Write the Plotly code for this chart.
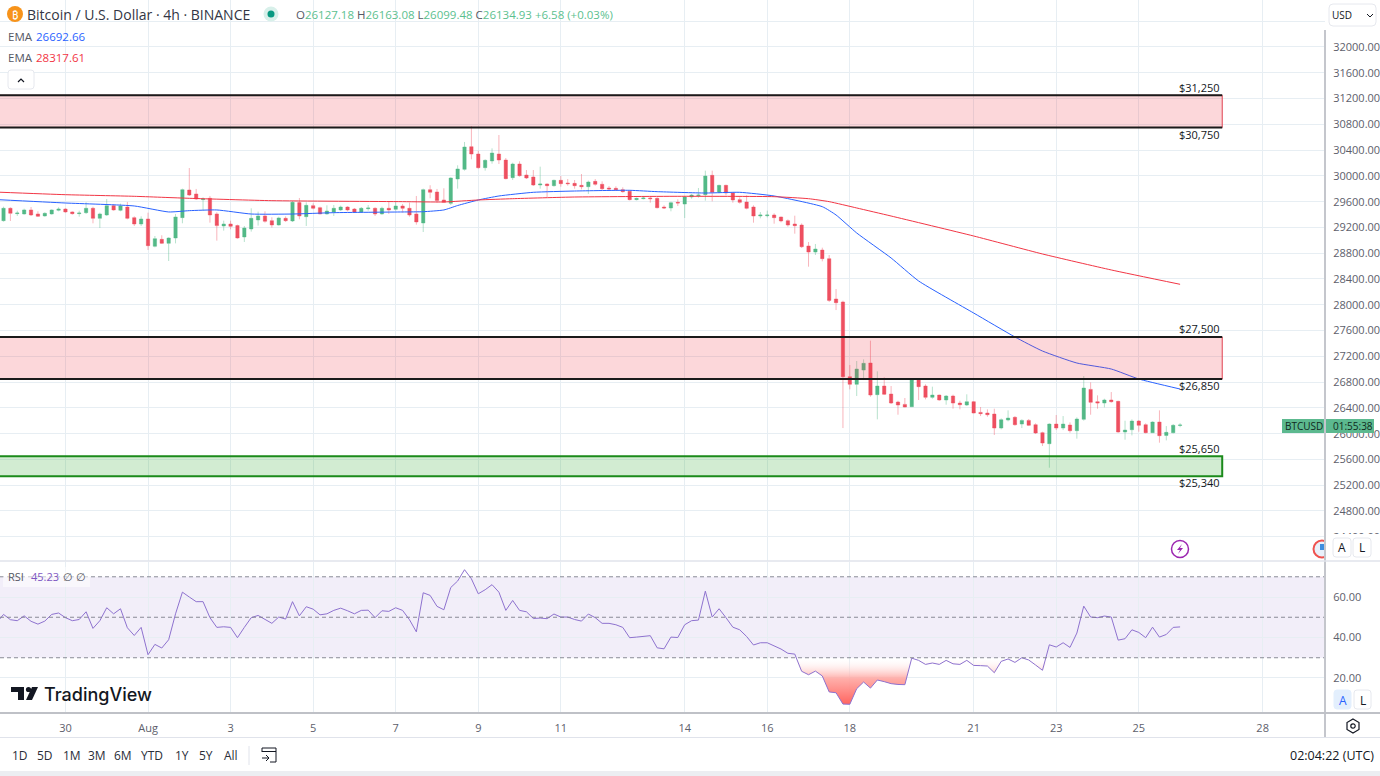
import pandas as pd
import plotly.graph_objects as go

W, H = 1380, 776
FONT = "Open Sans"

opens = [
29305,29497,29414,29409,29471,29409,29378,29409,29466,29486,
29440,29414,29429,29497,29341,29393,29538,29466,29517,29352,
29253,29331,28907,29015,28953,29036,29352,29781,29719,29631,
29652,29409,29222,29253,29228,29052,29176,29316,29378,29305,
29238,29341,29300,29585,29367,29538,29507,29409,29440,29471,
29517,29486,29440,29491,29497,29409,29497,29481,29533,29497,
29409,29269,29786,29750,29626,29574,29952,30101,30453,30339,
30127,30231,30339,30246,29972,30184,30013,29982,29858,29874,
29848,29931,29889,29884,29853,29832,29915,29869,29812,29806,
29786,29760,29631,29646,29657,29651,29517,29501,29589,29563,
29672,29693,29708,30008,29744,29853,29734,29631,29594,29517,
29377,29382,29393,29362,29305,29253,29237,28912,28818,28849,
28715,28089,28043,26884,26765,26987,27096,26605,26739,26615,
26491,26454,26418,26842,26739,26563,26599,26522,26584,26475,
26444,26496,26330,26320,26304,26087,26211,26253,26149,26206,
26139,26015,25844,26149,26087,26134,26046,26222,26687,26496,
26475,26522,26501,26025,26061,26196,26139,26015,26180,25973,
26015,26127.18]

highs = [
29522,29512,29460,29491,29517,29450,29435,29481,29512,29497,
29450,29460,29590,29522,29429,29641,29559,29569,29595,29372,
29372,29429,29067,29078,29047,29409,29802,30122,29797,29667,
29688,29435,29305,29305,29243,29222,29497,29445,29450,29357,
29367,29372,29610,29657,29590,29574,29522,29543,29548,29538,
29528,29502,29517,29548,29512,29522,29595,29595,29564,29585,
29688,29802,29854,29797,29807,29978,30164,30526,30774,30391,
30257,30427,30634,30277,30205,30226,30091,30091,30143,29884,
29941,29998,29951,29936,30029,29926,29951,29915,29843,29838,
29822,29781,29662,29688,29688,29667,29543,29600,29636,29688,
29719,29812,30081,30081,29863,29863,29750,29667,29698,29543,
29439,29460,29419,29367,29325,29382,29263,28974,28943,28886,
28772,28244,28063,27065,27127,27153,27443,26967,26873,26739,
26511,26553,26853,26858,26765,26729,26605,26599,26605,26511,
26610,26506,26413,26377,26387,26237,26361,26273,26222,26227,
26160,26030,26160,26289,26273,26175,26253,26894,26796,26594,
26542,26646,26511,26201,26222,26211,26160,26191,26361,26118,
26149,26163.08]

lows = [
29290,29300,29378,29398,29378,29362,29367,29398,29450,29429,
29398,29367,29409,29264,29191,29378,29460,29450,29326,29222,
29222,28850,28891,28943,28679,28953,29264,29688,29626,29460,
29274,28995,29150,29171,29026,28974,29135,29228,29274,29197,
29228,29285,29285,29326,29222,29481,29404,29398,29378,29455,
29450,29429,29424,29460,29378,29398,29409,29460,29429,29367,
29243,29129,29652,29585,29585,29548,29802,30081,30257,30112,
30081,30189,30184,29946,29936,29988,29951,29843,29801,29667,
29832,29832,29848,29801,29791,29719,29848,29781,29775,29765,
29739,29620,29620,29636,29584,29496,29486,29450,29532,29346,
29646,29662,29615,29605,29729,29698,29584,29569,29481,29274,
29341,29356,29258,29279,29212,29103,28881,28591,28772,28674,
28043,27918,26087,26687,26584,26832,26573,26222,26599,26460,
26294,26408,26413,26522,26532,26542,26511,26449,26387,26377,
26429,26315,26273,26263,25979,26066,26191,26123,26087,26118,
25994,25808,25472,26056,26056,26015,25922,26201,26294,26387,
26408,26480,26015,25906,25973,26030,26004,26010,25860,25896,
26004,26099.48]

closes = [
29497,29419,29424,29471,29393,29372,29419,29471,29486,29440,
29414,29424,29497,29341,29409,29538,29471,29533,29341,29253,
29331,28917,29026,28953,29036,29362,29786,29703,29641,29641,
29393,29228,29253,29217,29036,29191,29341,29378,29295,29238,
29347,29305,29590,29378,29543,29497,29409,29455,29497,29517,
29471,29440,29497,29502,29409,29497,29471,29533,29497,29393,
29285,29786,29745,29616,29590,29967,30107,30448,30339,30127,
30241,30355,30246,29957,30184,30003,29967,29858,29874,29848,
29931,29879,29879,29848,29832,29905,29869,29801,29796,29786,
29755,29631,29651,29657,29646,29506,29501,29584,29579,29672,
29703,29703,29998,29744,29853,29734,29626,29589,29496,29377,
29393,29393,29351,29300,29237,29227,28901,28818,28865,28715,
28068,28032,26884,26765,27003,27091,26599,26739,26610,26475,
26444,26413,26842,26729,26563,26599,26522,26584,26475,26449,
26496,26320,26310,26294,26087,26216,26242,26139,26206,26129,
26010,25854,26149,26087,26149,26046,26227,26708,26486,26475,
26522,26496,26025,26056,26196,26129,26015,26180,25968,26020,
26129,26134.93]

# RSI starts one bar earlier than the candles (that bar sits just off the left edge)
rsi = [47.3,
51.4,48.8,48.3,50.7,48.0,46.6,48.1,51.4,52.1,49.8,
48.3,48.9,52.7,44.5,48.3,54.7,51.7,54.2,44.8,41.0,
45.0,31.5,36.6,34.8,38.9,51.7,62.4,60.0,57.7,57.7,
49.8,45.0,45.3,45.0,39.9,45.0,49.8,50.9,48.8,47.0,
50.1,49.1,57.7,50.7,55.2,54.0,51.2,51.7,53.4,54.5,
53.2,51.7,53.4,53.5,49.8,53.2,52.9,54.7,53.4,48.8,
42.8,62.1,60.8,55.4,53.7,64.7,67.9,73.5,69.0,61.6,
63.6,66.1,62.4,53.4,58.3,53.4,52.7,49.4,49.6,49.3,
51.6,50.1,50.1,48.9,48.1,51.6,49.8,47.0,47.0,46.3,
45.0,39.9,40.2,40.7,40.9,34.9,34.4,40.2,40.0,46.3,
48.3,48.6,62.9,50.1,54.2,49.8,45.1,43.8,40.5,36.3,
37.4,37.4,35.9,34.3,32.2,31.8,23.3,21.6,23.4,21.0,
13.1,12.7,7.1,7.0,14.7,18.0,15.0,19.0,18.2,17.2,
16.8,16.7,29.8,28.7,26.7,27.4,26.7,28.7,27.0,26.7,
28.7,26.2,26.1,25.9,22.6,28.2,29.4,27.7,30.0,28.9,
26.4,23.8,36.4,35.3,37.4,35.1,42.2,55.5,50.1,49.8,
50.6,50.1,38.7,39.4,43.8,42.5,39.9,45.1,40.2,41.5,
45.0,45.23]

ema_blue_bars = [0,10,20,25,28,32,37,43,49,59,62,65,67,70,73,78,84,92,96,103,108,113,120,122,125,130,134,142,148,152,157,162,166,172]
ema_blue = [29632,29579,29533,29440,29460,29471,29408,29408,29429,29440,29444,29471,29540,29626,29688,29745,29765,29776,29755,29734,29745,29688,29522,29393,29114,28726,28369,27872,27500,27282,27096,27003,26848,26692.66]
ema_red_bars = [0,10,20,28,40,59,65,70,75,84,99,113,118,121,125,130,142,152,162,172]
ema_red = [29748,29708,29683,29652,29615,29600,29595,29626,29646,29672,29683,29677,29646,29600,29502,29377,29067,28788,28540,28317.61]

tick_dates = ["2023-07-30","2023-08-01","2023-08-03","2023-08-05","2023-08-07","2023-08-09","2023-08-11","2023-08-14","2023-08-16","2023-08-18","2023-08-21","2023-08-23","2023-08-25","2023-08-28"]
tick_labels = ["30","Aug","3","5","7","9","11","14","16","18","21","23","25","28"]

zone_upper = (30750, 31250)
zone_middle = (26850, 27500)
zone_lower = (25340, 25650)

START = pd.Timestamp("2023-07-28 12:00")
times = pd.date_range(START, periods=len(opens), freq="4h")
bar_time = lambda i: START + pd.Timedelta(hours=4 * (i - 1))
rsi_times = [bar_time(i) for i in range(len(rsi))]

X_RANGE = ["2023-07-28 09:57", "2023-08-29 12:15"]
ZONE_START = "2023-07-27 00:00"
ZONE_END = "2023-08-27 00:30"
LABEL_X = "2023-08-26 11:30"
GREEN, RED = "#53b987", "#ee4f60"

def X(p): return p / W
def Y(p): return 1 - p / H

fig = go.Figure()
fig.add_trace(go.Candlestick(
    x=times, open=opens, high=highs, low=lows, close=closes, xaxis="x2", yaxis="y",
    whiskerwidth=0,
    increasing=dict(line=dict(color="rgba(83,185,135,0.42)", width=1), fillcolor=GREEN),
    decreasing=dict(line=dict(color="rgba(238,79,96,0.42)", width=1), fillcolor=RED),
    showlegend=False, hoverinfo="skip"))
fig.add_trace(go.Scatter(x=[bar_time(i) for i in ema_blue_bars], y=ema_blue, mode="lines", xaxis="x2", yaxis="y",
                         line=dict(color="#2962ff", width=1, shape="spline", smoothing=0.5), hoverinfo="skip", showlegend=False))
fig.add_trace(go.Scatter(x=[bar_time(i) for i in ema_red_bars], y=ema_red, mode="lines", xaxis="x2", yaxis="y",
                         line=dict(color="#f23645", width=1, shape="spline", smoothing=0.5), hoverinfo="skip", showlegend=False))

# RSI pane
fig.add_trace(go.Scatter(x=rsi_times, y=[30] * len(rsi), mode="lines", line=dict(width=0), xaxis="x", yaxis="y2",
                         hoverinfo="skip", showlegend=False))
fig.add_trace(go.Scatter(x=rsi_times, y=[min(v, 30) for v in rsi], mode="lines", line=dict(width=0), xaxis="x", yaxis="y2",
                         fill="tonexty",
                         fillgradient=dict(type="vertical", start=7, stop=30,
                                           colorscale=[[0, "rgba(255,100,95,1)"], [0.55, "rgba(255,165,160,0.9)"], [1, "rgba(255,255,255,0)"]]),
                         hoverinfo="skip", showlegend=False))
fig.add_trace(go.Scatter(x=rsi_times, y=rsi, mode="lines", line=dict(color="#8e72cf", width=1), xaxis="x", yaxis="y2",
                         hoverinfo="skip", showlegend=False))

shapes = []
annos = []

def rect(x0, y0, x1, y1, fill="rgba(0,0,0,0)", line="rgba(0,0,0,0)", width=0, layer="above"):
    shapes.append(dict(type="rect", xref="paper", yref="paper", x0=X(x0), x1=X(x1), y0=Y(y0), y1=Y(y1),
                       fillcolor=fill, line=dict(color=line, width=width), layer=layer))

def rrect(x0, y0, x1, y1, r, fill="#ffffff", line="#e6e8ee", width=1):
    pts = (f"M {X(x0+r)} {Y(y0)} L {X(x1-r)} {Y(y0)} Q {X(x1)} {Y(y0)} {X(x1)} {Y(y0+r)} "
           f"L {X(x1)} {Y(y1-r)} Q {X(x1)} {Y(y1)} {X(x1-r)} {Y(y1)} L {X(x0+r)} {Y(y1)} "
           f"Q {X(x0)} {Y(y1)} {X(x0)} {Y(y1-r)} L {X(x0)} {Y(y0+r)} Q {X(x0)} {Y(y0)} {X(x0+r)} {Y(y0)} Z")
    shapes.append(dict(type="path", xref="paper", yref="paper", path=pts, fillcolor=fill,
                       line=dict(color=line, width=width), layer="above"))

def poly(points, fill=None, line=None, width=1, close=False):
    d = "M " + " L ".join(f"{X(a)} {Y(b)}" for a, b in points) + (" Z" if close else "")
    shapes.append(dict(type="path", xref="paper", yref="paper", path=d, layer="above",
                       fillcolor=fill or "rgba(0,0,0,0)",
                       line=dict(color=line or "rgba(0,0,0,0)", width=width if line else 0)))

def circle(cx, cy, r, fill="rgba(0,0,0,0)", line="rgba(0,0,0,0)", width=0):
    shapes.append(dict(type="circle", xref="paper", yref="paper", x0=X(cx - r), x1=X(cx + r), y0=Y(cy + r), y1=Y(cy - r),
                       fillcolor=fill, line=dict(color=line, width=width), layer="above"))

def text(px, py, s, size=12, color="#131722", anchor="left", family=FONT, weight="normal"):
    annos.append(dict(xref="paper", yref="paper", x=X(px), y=Y(py), text=s, showarrow=False, xanchor=anchor, yanchor="middle",
                      font=dict(size=size, color=color, family=family, weight=weight), borderpad=0, borderwidth=0))

def hline(y0, x0, x1, color, width=1):
    poly([(x0, y0), (x1, y0)], line=color, width=width)

def vline(x0, y0, y1, color, width=1):
    poly([(x0, y0), (x0, y1)], line=color, width=width)

# RSI band and levels
shapes.append(dict(type="rect", xref="x domain", yref="y2", x0=0, x1=1, y0=30, y1=70, fillcolor="rgba(126,87,194,0.1)",
                   line=dict(width=0), layer="below"))
for lvl in (30, 50, 70):
    shapes.append(dict(type="line", xref="x domain", yref="y2", x0=0, x1=1, y0=lvl, y1=lvl,
                       line=dict(color="#787b86", width=1, dash="4px,3px"), layer="above", opacity=0.85))

# Zones
for lo, hi in (zone_upper, zone_middle):
    shapes.append(dict(type="rect", xref="x2", yref="y", x0=ZONE_START, x1=ZONE_END, y0=lo, y1=hi,
                       fillcolor="rgba(242,54,69,0.2)", line=dict(color="#e04050", width=1), layer="above"))
    for lvl in (lo, hi):
        shapes.append(dict(type="line", xref="x2", yref="y", x0=ZONE_START, x1=ZONE_END, y0=lvl, y1=lvl,
                           line=dict(color="#1a1a1a", width=2), layer="above"))
shapes.append(dict(type="rect", xref="x2", yref="y", x0=ZONE_START, x1=ZONE_END, y0=zone_lower[0], y1=zone_lower[1],
                   fillcolor="rgba(60,175,60,0.23)", line=dict(color="#1b8a1b", width=2), layer="above"))

for price, shift in ((zone_upper[1], 8), (zone_upper[0], -6.5), (zone_middle[1], 8), (zone_middle[0], -6.5),
                     (zone_lower[1], 8), (zone_lower[0], -6.5)):
    annos.append(dict(xref="x2", yref="y", x=LABEL_X, y=price, text=f"${price:,}", showarrow=False, yshift=shift,
                      font=dict(size=11, color="#131722", family=FONT)))

# Right side and frame
rect(1326, 0, W, 30, fill="#ffffff")
rrect(1329, 4, 1376, 26, 4)
text(1332, 15, "USD", 10)
poly([(1367, 14), (1370, 17), (1373, 14)], line="#131722", width=1)
rect(1326, 534, W, 561, fill="#ffffff")
rrect(1333, 538, 1351, 557, 3)
text(1342, 547.5, "A", 12, anchor="center")
rrect(1353, 538, 1371, 557, 3)
text(1362, 547.5, "L", 12, anchor="center")
rrect(1334, 690, 1351, 709, 3, fill="#e3effd", line="#e3effd")
text(1342.5, 700, "A", 12, color="#2962ff", anchor="center")
rrect(1354, 690, 1371, 709, 3)
text(1362.5, 700, "L", 12, anchor="center")

rect(1282, 419, 1374, 433, fill="#5cb98f")
text(1285, 426, "BTCUSD", 10, color="#0f2a20")
text(1353, 426, "01:55:38", 10, color="#0f2a20", anchor="center")

circle(1322, 549, 8.5, fill="#e9f1fb", line="#ef5350", width=2)
rect(1320, 544, 1326, 550, fill="#3d8ee0")
rect(1326, 538, 1332, 560, fill="#ffffff")
circle(1180, 549, 8.5, line="#9c27b0", width=1.5)
poly([(1182, 544), (1177, 550), (1180, 550), (1178, 554), (1183, 548), (1180, 548)], fill="#9c27b0", close=True)

vline(1325, 30, 737, "#c4c6cc", 2)
hline(561, 0, W, "#e0e3eb", 1.5)
hline(713, 0, W, "#bfc1c7", 2)
hline(737.5, 0, W, "#e0e3eb", 1)
rect(0, 771, W, H, fill="#eceef2")

# Header
circle(15, 14, 8, fill="#f7931a")
text(15, 14, "₿", 11, color="#ffffff", anchor="center", family="Noto Sans")
text(27, 14, "Bitcoin / U.S. Dollar · 4h · BINANCE", 14, color="#333644")
circle(271, 14, 7.5, fill="#d8f0ea")
circle(271, 14, 3.5, fill="#089981")
g = "#5cbf8f"
text(296, 14, f"O<span style='color:{g}'>26127.18</span> H<span style='color:{g}'>26163.08</span> "
              f"L<span style='color:{g}'>26099.48</span> C<span style='color:{g}'>26134.93</span> "
              f"<span style='color:{g}'>+6.58 (+0.03%)</span>", 11.5, color="#555864")
text(8, 36, "EMA", 11.5, color="#555864")
text(36, 36, "26692.66", 11.5, color="#2962ff")
text(8, 58, "EMA", 11.5, color="#555864")
text(36, 58, "28317.61", 11.5, color="#f23645")
rrect(8, 70, 34, 89, 3)
poly([(18, 82), (21, 79), (24, 82)], line="#131722", width=1.2)

# RSI legend
rect(3, 567, 90, 587, fill="rgba(255,255,255,0.55)")
text(8, 576, "RSI", 11, color="#555864")
text(31, 576, "45.23", 11, color="#7e57c2")
text(68, 576, "∅", 11, color="#555864", anchor="center")
text(81, 576, "∅", 11, color="#555864", anchor="center")

# Logo
poly([(11, 687), (24, 687), (24, 700), (18, 700), (18, 692), (11, 692)], fill="#131722", close=True)
circle(28.5, 689.5, 2.6, fill="#131722")
poly([(32, 687), (38, 687), (32, 700), (26, 700)], fill="#131722", close=True)
text(43.5, 694, "TradingView", 18, color="#131722", family="Inter", weight=500)

# Bottom toolbar
for px, lab in ((20, "1D"), (45, "5D"), (71.5, "1M"), (97, "3M"), (123, "6M"), (152, "YTD"), (182, "1Y"), (206, "5Y"), (231, "All")):
    text(px, 755, lab, 12, color="#2a2e39", anchor="center")
vline(249, 746, 765, "#e0e3eb", 1)
poly([(262, 752), (262, 748), (276, 748), (276, 762), (270, 762)], line="#131722", width=1)
hline(751.5, 262, 276, "#131722", 1)
poly([(262, 758), (269, 758)], line="#131722", width=1)
poly([(266, 755), (269, 758), (266, 761)], line="#131722", width=1)
text(1374, 755, "02:04:22 (UTC)", 12.5, color="#131722", anchor="right")

# Settings icon
poly([(1353, 719), (1359, 722.5), (1359, 729.5), (1353, 733), (1347, 729.5), (1347, 722.5)], line="#131722", width=1.2, close=True)
circle(1353, 726, 2.2, line="#131722", width=1.2)

grid = "#e7eef3"
fig.update_layout(
    width=W, height=H, autosize=False, margin=dict(l=0, r=0, t=0, b=0),
    paper_bgcolor="#ffffff", plot_bgcolor="#ffffff", showlegend=False, hovermode=False,
    font=dict(family=FONT, size=11, color="#5d606b"),
    xaxis=dict(domain=[0, 1325 / W], anchor="y2", range=X_RANGE, type="date", tickmode="array", tickvals=tick_dates,
               ticktext=tick_labels, showgrid=True, gridcolor=grid, gridwidth=1, ticks="outside", ticklen=5,
               tickcolor="rgba(0,0,0,0)", tickfont=dict(size=11, color="#5d606b"), rangeslider=dict(visible=False), zeroline=False),
    xaxis2=dict(domain=[0, 1325 / W], anchor="y", matches="x", type="date", tickmode="array", tickvals=tick_dates,
                showticklabels=False, showgrid=True, gridcolor=grid, gridwidth=1, rangeslider=dict(visible=False), zeroline=False),
    yaxis=dict(domain=[1 - 561 / H, 1], anchor="x2", side="right", range=[24024, 32729], tick0=0, dtick=400, tickformat=".2f",
               showgrid=True, gridcolor=grid, gridwidth=1, ticks="outside", ticklen=5, tickcolor="rgba(0,0,0,0)",
               tickfont=dict(size=11, color="#5d606b"), zeroline=False),
    yaxis2=dict(domain=[1 - 713 / H, 1 - 562 / H], anchor="x", side="right", range=[2.7, 77.3], tick0=0, dtick=20, tickformat=".2f",
                showgrid=True, gridcolor=grid, gridwidth=1, ticks="outside", ticklen=5, tickcolor="rgba(0,0,0,0)",
                tickfont=dict(size=11, color="#5d606b"), zeroline=False),
    shapes=shapes, annotations=annos,
)

fig.write_html("out.html", config={"displayModeBar": False},
               post_script="document.body.style.margin='0';document.documentElement.style.overflow='hidden';")
